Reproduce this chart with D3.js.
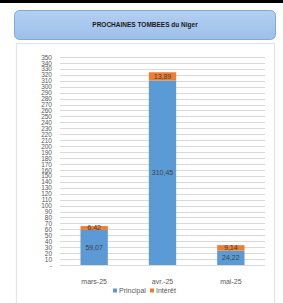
<!DOCTYPE html>
<html>
<head>
<meta charset="utf-8">
<script src="https://cdn.jsdelivr.net/npm/d3@7"></script>
<style>
  body { margin: 0; background: #fff; }
  svg { display: block; font-family: "Liberation Sans", Arial, sans-serif; }
</style>
</head>
<body>
<div id="chart"></div>
<script>
  // chart data
  var months = ["mars-25", "avr.-25", "mai-25"]
  var principal = [59.07, 310.45, 24.22]
  var interet = [6.42, 13.89, 9.14]
  var seriesNames = ["Principal", "Intérêt"]
  var seriesColors = ["#5b9bd5", "#ed7d31"]
  var yTicks = d3.range(10, 351, 10)

  var W = 283, H = 303

  var svg = d3.select("#chart")
    .append("svg")
    .attr("width", W)
    .attr("height", H)

  // black strip on top
  svg.append("rect")
    .attr("x", 0).attr("y", 0)
    .attr("width", W).attr("height", 3)
    .style("fill", "#000")

  // title box with gradient
  var defs = svg.append("defs")
  var grad = defs.append("linearGradient")
    .attr("id", "titleGrad")
    .attr("x1", 0).attr("y1", 0).attr("x2", 0).attr("y2", 1)
  grad.append("stop").attr("offset", "0%").attr("stop-color", "#b4cff0")
  grad.append("stop").attr("offset", "100%").attr("stop-color", "#9cc0ea")

  svg.append("rect")
    .attr("x", 14.5).attr("y", 10.5)
    .attr("width", 261).attr("height", 29)
    .attr("rx", 5).attr("ry", 5)
    .style("fill", "url(#titleGrad)")
    .style("stroke", "#7fa9dc")
    .style("stroke-width", 1)

  svg.append("text")
    .attr("x", 145)
    .attr("y", 27)
    .style("text-anchor", "middle")
    .style("font-size", "6.5px")
    .style("font-weight", "bold")
    .style("fill", "#1a1a1a")
    .text("PROCHAINES TOMBEES du Niger")

  // chart panel
  svg.append("rect")
    .attr("x", 16.5).attr("y", 43.5)
    .attr("width", 258).attr("height", 270)
    .style("fill", "#fff")
    .style("stroke", "#e3e3e3")
    .style("stroke-width", 1.2)

  // plot area
  var plotLeft = 60, plotRight = 265, plotTop = 57, plotBottom = 265

  var x = d3.scaleBand()
    .domain(months)
    .range([plotLeft, plotRight])
    .paddingInner(0.6)
    .paddingOuter(0.3)

  var y = d3.scaleLinear()
    .domain([0, 350])
    .range([plotBottom, plotTop])

  // grid lines
  svg.append("g")
    .selectAll("line")
    .data([0].concat(yTicks))
    .enter().append("line")
    .attr("x1", plotLeft)
    .attr("x2", plotRight)
    .attr("y1", function(d) { return Math.round(y(d)) + 0.5 })
    .attr("y2", function(d) { return Math.round(y(d)) + 0.5 })
    .style("stroke", "#d9d9d9")
    .style("stroke-width", 1)

  // y axis labels
  var yAxis = d3.axisLeft(y)
    .tickValues([0].concat(yTicks))
    .tickSize(0)
    .tickPadding(0)
    .tickFormat(function(d) { return d === 0 ? "-" : d })

  var gy = svg.append("g")
    .attr("transform", "translate(52,0)")
    .call(yAxis)
  gy.select(".domain").remove()
  gy.selectAll("text")
    .style("font-size", "6.5px")
    .style("fill", "#595959")
    .style("font-family", "Liberation Sans, Arial, sans-serif")

  // stacked bars
  var stackData = months.map(function(m, i) {
    return { month: m, p: principal[i], t: interet[i] }
  })

  svg.selectAll(".barP")
    .data(stackData)
    .enter().append("rect")
    .attr("class", "barP")
    .attr("x", function(d) { return x(d.month) })
    .attr("width", x.bandwidth())
    .attr("y", function(d) { return y(d.p) })
    .attr("height", function(d) { return y(0) - y(d.p) })
    .style("fill", seriesColors[0])

  svg.selectAll(".barT")
    .data(stackData)
    .enter().append("rect")
    .attr("class", "barT")
    .attr("x", function(d) { return x(d.month) })
    .attr("width", x.bandwidth())
    .attr("y", function(d) { return y(d.p + d.t) })
    .attr("height", function(d) { return y(d.p) - y(d.p + d.t) })
    .style("fill", seriesColors[1])

  function fmt(v) { return v.toFixed(2).replace(".", ",") }

  // value labels
  svg.selectAll(".lblP")
    .data(stackData)
    .enter().append("text")
    .attr("class", "lblP")
    .attr("x", function(d) { return x(d.month) + x.bandwidth() / 2 })
    .attr("y", function(d) { return (y(0) + y(d.p)) / 2 + 2.5 })
    .style("text-anchor", "middle")
    .style("font-size", "7px")
    .style("fill", "#404040")
    .text(function(d) { return fmt(d.p) })

  svg.selectAll(".lblT")
    .data(stackData)
    .enter().append("text")
    .attr("class", "lblT")
    .attr("x", function(d) { return x(d.month) + x.bandwidth() / 2 })
    .attr("y", function(d) { return (y(d.p) + y(d.p + d.t)) / 2 + 2.5 })
    .style("text-anchor", "middle")
    .style("font-size", "7px")
    .style("fill", "#404040")
    .text(function(d) { return fmt(d.t) })

  // x axis labels
  svg.selectAll(".xlbl")
    .data(months)
    .enter().append("text")
    .attr("class", "xlbl")
    .attr("x", function(d) { return x(d) + x.bandwidth() / 2 })
    .attr("y", 284)
    .style("text-anchor", "middle")
    .style("font-size", "7px")
    .style("fill", "#595959")
    .text(function(d) { return d })

  // legend
  var legX = [113, 150]
  var legend = svg.selectAll(".legend")
    .data(seriesNames)
    .enter().append("g")
    .attr("class", "legend")
    .attr("transform", function(d, i) { return "translate(" + legX[i] + ",291)" })

  legend.append("rect")
    .attr("x", 0).attr("y", -2.5)
    .attr("width", 4).attr("height", 4)
    .style("fill", function(d, i) { return seriesColors[i] })

  legend.append("text")
    .attr("x", 6)
    .attr("y", 2)
    .style("font-size", "7px")
    .style("fill", "#595959")
    .text(function(d) { return d })
</script>
</body>
</html>
